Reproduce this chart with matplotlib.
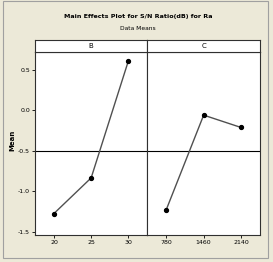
import matplotlib
matplotlib.use("Agg")
import matplotlib.pyplot as plt
from matplotlib.patches import Rectangle

factors = ["B", "C"]
levels_B = ["20", "25", "30"]
means_B = [-1.275, -0.836, 0.605]
levels_C = ["780", "1460", "2140"]
means_C = [-1.226, -0.062, -0.214]
grand_mean = -0.50
yticks = [0.5, 0.0, -0.5, -1.0, -1.5]
ytick_labels = ["0.5", "0.0", "-0.5", "-1.0", "-1.5"]

plt.rcParams['font.family'] = ["DejaVu Sans"]

W, H = 273, 262
fig = plt.figure(figsize=(W / 100, H / 100), dpi=100)
bg = "#ece9d8"
fig.patch.set_facecolor(bg)
fig.patches.append(Rectangle((3 / W, 1 - 258 / H), 265 / W, 257 / H, transform=fig.transFigure,
                             fill=False, edgecolor="#a0a0a0", linewidth=0.8))

left, right, top_plot, bottom, strip_top, mid = 35, 260, 51.7, 235, 40, 147.3

def fx(p):
    return p / W

def fy(p):
    return 1 - p / H

panels = [(factors[0], levels_B, means_B, left, mid), (factors[1], levels_C, means_C, mid, right)]
for i, (name, levs, vals, x0, x1) in enumerate(panels):
    ax = fig.add_axes([fx(x0), fy(bottom), fx(x1 - x0), (bottom - top_plot) / H])
    ax.set_facecolor("white")
    xs = list(range(len(levs)))
    ax.plot(xs, vals, color="#505050", linewidth=1.0, zorder=2)
    ax.plot(xs, vals, "o", color="black", markersize=2.8, zorder=3)
    ax.axhline(grand_mean, color="black", linewidth=0.8, zorder=1)
    ax.set_xlim(-0.51, 2.51)
    ax.set_ylim(-1.54, 0.72)
    ax.set_xticks(xs)
    ax.set_xticklabels(levs, fontsize=4.5)
    ax.tick_params(axis="both", length=2, width=0.6, pad=1.5, colors="black", labelsize=4.5)
    if i == 0:
        ax.set_yticks(yticks)
        ax.set_yticklabels(ytick_labels, fontsize=4.5)
    else:
        ax.set_yticks([])
    for sp in ax.spines.values():
        sp.set_linewidth(0.8)
        sp.set_color("#303030")
    sax = fig.add_axes([fx(x0), fy(top_plot), fx(x1 - x0), (top_plot - strip_top) / H])
    sax.set_facecolor("white")
    sax.set_xticks([])
    sax.set_yticks([])
    for sp in sax.spines.values():
        sp.set_linewidth(0.8)
        sp.set_color("#303030")
    sax.text(0.5, 0.5, name, ha="center", va="center", fontsize=5, transform=sax.transAxes)

fig.text(fx(12), fy(140), "Mean", ha="center", va="center", rotation=90, fontsize=5, fontweight="bold")
fig.text(fx(138), fy(16.7), "Main Effects Plot for S/N Ratio(dB) for Ra", ha="center", va="center",
         fontsize=4.6, fontweight="bold")
fig.text(fx(138), fy(29), "Data Means", ha="center", va="center", fontsize=4.3)

fig.savefig("out.png", dpi=100, facecolor=bg)
